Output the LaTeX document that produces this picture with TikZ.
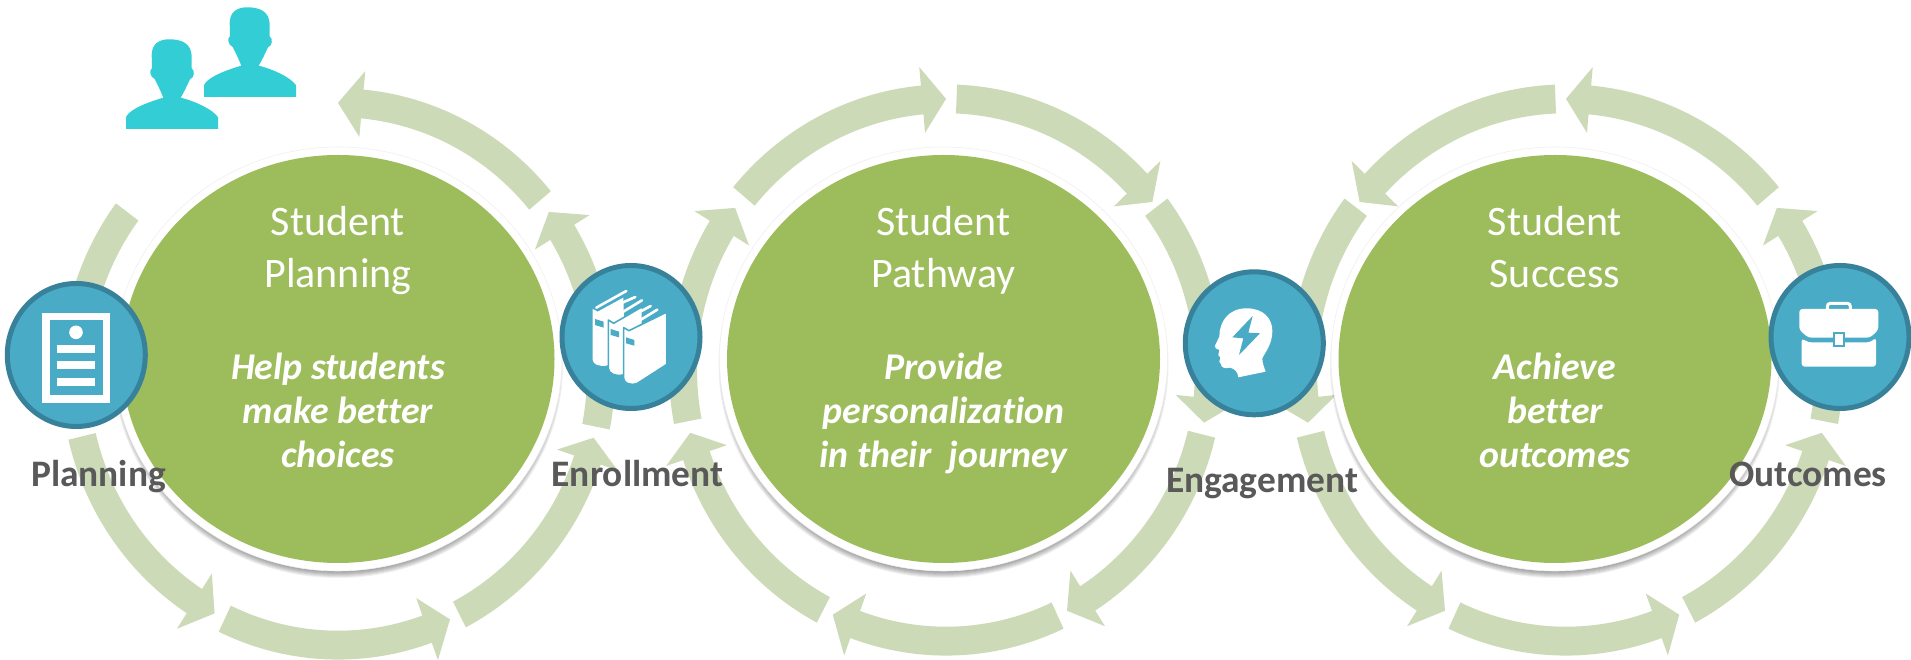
\documentclass[tikz,border=0pt]{standalone}
\usepackage{fontspec}
\setmainfont{Carlito}[Ligatures=NoCommon]
\definecolor{ringc}{HTML}{CDDAB7}
\definecolor{greenc}{HTML}{9DBC5B}
\definecolor{tealf}{HTML}{4AABC6}
\definecolor{teald}{HTML}{38819A}
\definecolor{peoplec}{HTML}{33CDD5}
\definecolor{labelc}{HTML}{595959}
\tikzset{
  ringarc/.style={fill=ringc},
  iconcirc/.style={fill=tealf,draw=teald,line width=5pt},
  bigtitle/.style={text=white,anchor=base,inner sep=0pt,font=\fontsize{42}{50}\selectfont},
  bigsub/.style={text=white,anchor=base,inner sep=0pt,font=\fontsize{37.8}{44}\selectfont\bfseries\itshape},
  steplabel/.style={text=labelc,anchor=base,inner sep=0pt,font=\fontsize{37.4}{40}\selectfont\bfseries},
  whitepart/.style={fill=white},
  tealpart/.style={fill=tealf}
}
\newcommand{\arrseg}[3]{%
  \fill[ringarc] (#1:277pt) arc[start angle=#1,end angle=#2,radius=277pt]
    -- (#2:295pt) -- (#3:263pt) -- (#2:231pt) -- (#2:249pt)
    arc[start angle=#2,end angle=#1,radius=249pt] -- cycle;}
\newcommand{\plainseg}[2]{%
  \fill[ringarc] (#1:277pt) arc[start angle=#1,end angle=#2,radius=277pt]
    -- (#2:249pt) arc[start angle=#2,end angle=#1,radius=249pt] -- cycle;}
\newcommand{\disc}[1]{%
  \foreach \k in {0,1,...,6}{
    \fill[black,opacity=.06] (#1pt,295pt) ellipse[x radius={219pt+\k*1pt},y radius={207pt+\k*1pt}];
  }
  \fill[white,draw=black!6,line width=.6pt] (#1pt,301pt) ellipse[x radius=224pt,y radius=212pt];
  \fill[greenc] (#1pt,301pt) ellipse[x radius=216.5pt,y radius=204pt];}
\newcommand{\bust}[2]{%
  \fill[peoplec,shift={(#1pt,#2pt)}] (0,0) -- (0,11.7)
    .. controls (2,17) and (12.3,24) .. (37.3,31.3)
    .. controls (35,37) and (33,41.7) .. (28.7,50)
    .. controls (24,52) and (23,59) .. (26,60.7)
    -- (25.7,74)
    .. controls (25.7,84) and (32,89.7) .. (43,89.7)
    .. controls (55,89.7) and (65.7,86) .. (65.7,72)
    -- (65.7,60.7)
    .. controls (69.5,58) and (68,51) .. (64,49.7)
    .. controls (60,41) and (58,37) .. (54.7,31.3)
    .. controls (70.7,27.3) and (87.3,19) .. (92,11.7)
    -- (92,0) -- cycle;}
\begin{document}
\begin{tikzpicture}[x=1pt,y=1pt]
\useasboundingbox (0,0) rectangle (1911,660);
\fill[white] (0,0) rectangle (1911,660);
% ring 1
\begin{scope}[shift={(338pt,286pt)},yscale=1.031]
  \arrseg{193.3}{236.9}{242}
  \arrseg{244.5}{289.8}{295.2}
  \arrseg{297.5}{341.5}{346.4}
  \arrseg{-11.2}{31.5}{36.7}
  \arrseg{39.8}{84.7}{90}
  \plainseg{143.3}{175}
\end{scope}
% ring 2
\begin{scope}[shift={(946pt,290pt)},yscale=1.031]
  \arrseg{140.2}{95.2}{90}
  \arrseg{87.7}{43.4}{38.3}
  \arrseg{36.9}{-6}{-11.2}
  \arrseg{-13.7}{-57.4}{-62.6}
  \arrseg{-64.9}{-110.2}{-115.5}
  \arrseg{-117.8}{-161.6}{-166.6}
  \arrseg{190.9}{148.5}{143.3}
\end{scope}
% ring 3
\begin{scope}[shift={(1566pt,290pt)},yscale=1.031]
  \arrseg{92.3}{136.6}{141.7}
  \arrseg{143.1}{186}{191.2}
  \arrseg{193.7}{237.4}{242.6}
  \arrseg{244.9}{290.2}{295.5}
  \arrseg{297.8}{341.6}{346.6}
  \arrseg{-10.9}{31.5}{36.7}
  \arrseg{39.8}{84.8}{90}
\end{scope}
% discs
\disc{338}
\disc{943.5}
\disc{1555}
% people
\bust{126}{531}
\bust{204}{563}
% icon circles
\fill[iconcirc] (76.3pt,305pt) ellipse[x radius=69pt,y radius=71.5pt];
\fill[iconcirc] (631pt,323pt) ellipse[x radius=69pt,y radius=71.5pt];
\fill[iconcirc] (1254.3pt,316.7pt) ellipse[x radius=69pt,y radius=71.5pt];
\fill[iconcirc] (1840pt,323pt) ellipse[x radius=69pt,y radius=71.5pt];
% document icon
\begin{scope}[shift={(0pt,390pt)},x=.3333pt,y=-.3333pt]
  \fill[whitepart] (127,128) rectangle (331,398);
  \fill[tealpart] (149,150) rectangle (308,376);
  \fill[whitepart] (228,187) circle[radius=6.8pt];
  \fill[whitepart] (172,225) rectangle (285,248);
  \fill[whitepart] (172,274) rectangle (285,298);
  \fill[whitepart] (172,325) rectangle (285,348);
\end{scope}
% books icon
\begin{scope}[shift={(555pt,405pt)},x=.3333pt,y=-.3333pt]
  \fill[whitepart] (113,162) -- (128,170) -- (205,128) -- (210,300) -- (155,332)
    .. controls (130,335) and (115,328) .. (113,315) -- cycle;
  \fill[tealpart] (120,192) -- (146,200) -- (146,218) -- (120,210) -- cycle;
  \fill[whitepart,draw=tealf,line width=1.6pt,line join=round] (160,195) -- (176,205) -- (262,155) -- (262,320) -- (205,360)
    .. controls (180,365) and (160,355) .. (160,340) -- cycle;
  \fill[tealpart] (167,222) -- (192,230) -- (192,247) -- (167,240) -- cycle;
  \fill[whitepart,draw=tealf,line width=1.6pt,line join=round] (206,218) -- (222,227) -- (330,174)
    .. controls (334,172) and (336,175) .. (336,180) -- (336,328) -- (246,386)
    .. controls (225,392) and (206,385) .. (206,370) -- cycle;
  \fill[tealpart] (213,247) -- (238,255) -- (238,272) -- (213,265) -- cycle;
  \draw[white,line width=2.6pt,line cap=round] (124,158) -- (214,108);
  \draw[white,line width=2.6pt,line cap=round] (136,172) -- (241,126);
  \draw[white,line width=2.6pt,line cap=round] (172,190) -- (261,136);
  \draw[white,line width=2.6pt,line cap=round] (186,208) -- (287,153);
  \draw[white,line width=2.6pt,line cap=round] (222,216) -- (307,164);
\end{scope}
% head icon
\begin{scope}[shift={(1175pt,405pt)},x=.3333pt,y=-.3333pt]
  \fill[whitepart] (120,272) -- (133,245)
    .. controls (133,200) and (160,160) .. (215,160)
    .. controls (265,160) and (292,190) .. (292,228)
    .. controls (292,265) and (275,285) .. (262,310)
    .. controls (262,325) and (268,338) .. (272,350)
    -- (190,367) .. controls (188,350) and (180,342) .. (165,338)
    .. controls (150,342) and (138,338) .. (138,328)
    -- (133,320) -- (136,308) -- (130,300) -- (133,285) -- (122,280) -- cycle;
  \fill[tealpart] (233,183) -- (172,247) -- (205,250) -- (192,300) -- (255,235) -- (220,233) -- cycle;
\end{scope}
% briefcase icon
\begin{scope}[shift={(1760pt,405pt)},x=.3333pt,y=-.3333pt]
  \draw[white,line width=3pt,rounded corners=3pt] (202,165) -- (202,145) -- (271,145) -- (271,165);
  \fill[whitepart,rounded corners=3pt] (118,162) -- (355,162) -- (355,225) -- (330,248) -- (145,248) -- (118,225) -- cycle;
  \fill[whitepart,rounded corners=3pt] (125,250) -- (145,262) -- (330,262) -- (348,248) -- (348,335) -- (125,335) -- cycle;
  \fill[whitepart,draw=tealf,line width=1.8pt] (222,234) rectangle (252,272);
\end{scope}
% texts
\node[bigtitle] (t1a) at (338,424) {Student};
\node[bigtitle] (t1b) at (338,372) {Planning};
\node[bigsub] (s1a) at (338,280.5) {Help students};
\node[bigsub] (s1b) at (338,236) {make better};
\node[bigsub] (s1c) at (338,192) {choices};
\node[bigtitle] (t2a) at (943.5,424) {Student};
\node[bigtitle] (t2b) at (943.5,372) {Pathway};
\node[bigsub] (s2a) at (943.5,280.5) {Provide};
\node[bigsub] (s2b) at (943.5,236) {personalization};
\node[bigsub] (s2c) at (943.5,192) {in their\ \ journey};
\node[bigtitle] (t3a) at (1555,424) {Student};
\node[bigtitle] (t3b) at (1555,372) {Success};
\node[bigsub] (s3a) at (1555,280.5) {Achieve};
\node[bigsub] (s3b) at (1555,236) {better};
\node[bigsub] (s3c) at (1555,192) {outcomes};
\node[steplabel] (l1) at (98.5,173) {Planning};
\node[steplabel] (l2) at (637.5,173) {Enrollment};
\node[steplabel] (l3) at (1262,167.4) {Engagement};
\node[steplabel] (l4) at (1808,173) {Outcomes};
\end{tikzpicture}
\end{document}
